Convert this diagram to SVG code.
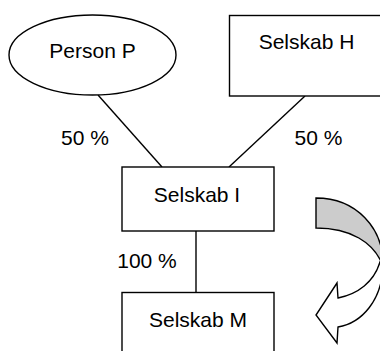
<svg xmlns="http://www.w3.org/2000/svg" width="380" height="351" viewBox="0 0 380 351">
<style>
.shape{fill:#ffffff;stroke:#000000;stroke-width:1.4}
.conn{fill:none;stroke:#000000;stroke-width:1.4}
.lbl{font-family:"Liberation Sans",Arial,sans-serif;font-size:21px;fill:#000000;text-anchor:middle}
.arrowback{fill:#ffffff;stroke:#000000;stroke-width:1.4;stroke-linejoin:miter}
.arrowface{fill:#cccccc;stroke:#000000;stroke-width:1.4}
</style>
<rect width="380" height="351" fill="#ffffff"/>
<g id="connectors">
<line class="conn" x1="98" y1="95" x2="162" y2="167"/>
<line class="conn" x1="305" y1="96" x2="229" y2="167"/>
<line class="conn" x1="196" y1="231" x2="196" y2="292.5"/>
<text class="lbl" x="85" y="145">50 %</text>
<text class="lbl" x="318.5" y="145">50 %</text>
<text class="lbl" x="147" y="268">100 %</text>
</g>
<g id="personP">
<ellipse class="shape" cx="92.5" cy="55" rx="83.5" ry="40"/>
<text class="lbl" x="92.5" y="58">Person P</text>
</g>
<g id="selskabH">
<rect class="shape" x="229.5" y="15.5" width="165" height="80.5"/>
<text class="lbl" x="306.5" y="49">Selskab H</text>
</g>
<g id="selskabI">
<rect class="shape" x="122" y="167" width="152" height="64"/>
<text class="lbl" x="197" y="202">Selskab I</text>
</g>
<g id="selskabM">
<rect class="shape" x="122" y="292.5" width="152" height="70"/>
<text class="lbl" x="198" y="327">Selskab M</text>
</g>
<g id="curvedArrow">
<path class="arrowback" d="M383,266 C382,300 362,323 338,327 L337,343 L316,315 L337,283 L338,298 C358,294 374,282 380,262 Z"/>
<path class="arrowface" d="M316,198 C356,198 384,228 383,266 C374,242 350,228 316,228 Z"/>
</g>
</svg>
